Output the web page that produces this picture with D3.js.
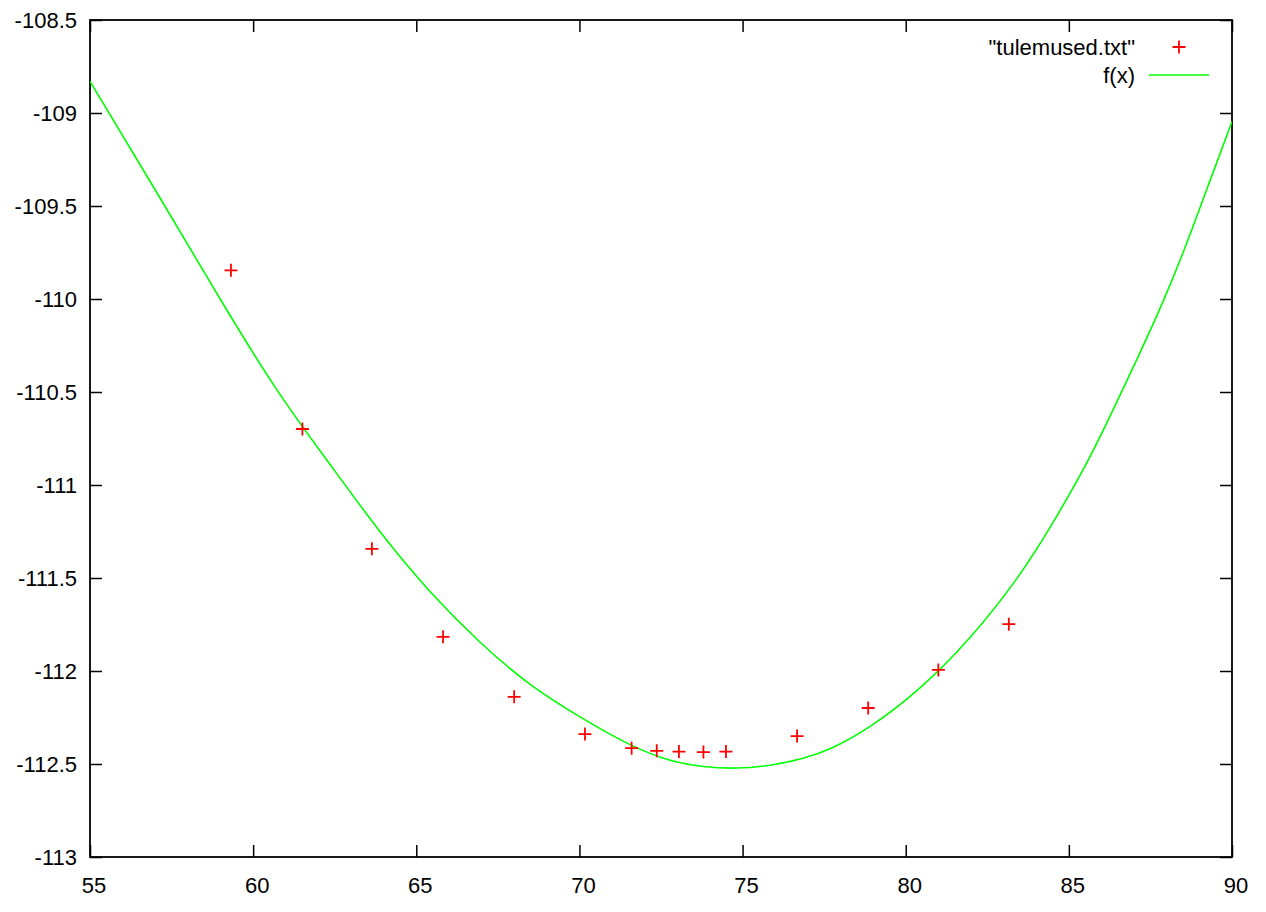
<!DOCTYPE html>
<html>
<head>
<meta charset="utf-8">
<script src="https://cdn.jsdelivr.net/npm/d3@7"></script>
<style>
  html, body { margin: 0; padding: 0; background: #fff; }
  svg text { font-family: "Liberation Sans", Arial, sans-serif; font-size: 22px; fill: #000; }
</style>
</head>
<body>
<svg id="chart" width="1266" height="912"></svg>
<script>
// Data points "tulemused.txt"
const dataX = [59.32, 61.51, 63.64, 65.82, 68.00, 70.17, 71.60, 72.37, 73.05, 73.80, 74.49, 76.67, 78.85, 81.00, 83.16];
const dataY = [-109.846, -110.699, -111.343, -111.816, -112.139, -112.339, -112.415, -112.429, -112.433, -112.436, -112.433, -112.350, -112.199, -111.994, -111.748];

// Fitted curve f(x)
const fitX = [55.0, 57.30, 58.98, 60.72, 62.30, 63.89, 65.42, 66.95, 68.48, 70.32, 71.60, 72.78, 73.80, 74.82, 75.84, 76.86, 77.68, 78.90, 80.44, 81.97, 83.50, 84.52, 85.65, 86.36, 87.08, 87.79, 88.51, 89.22, 90.0];
const fitY = [-108.83, -109.50, -110.00, -110.50, -110.875, -111.259, -111.581, -111.850, -112.083, -112.280, -112.406, -112.487, -112.517, -112.526, -112.510, -112.472, -112.424, -112.307, -112.101, -111.832, -111.492, -111.205, -110.855, -110.595, -110.327, -110.058, -109.753, -109.413, -109.046];

const xTicks = [55, 60, 65, 70, 75, 80, 85, 90];
const yTicks = [-108.5, -109, -109.5, -110, -110.5, -111, -111.5, -112, -112.5, -113];
const seriesNames = ['"tulemused.txt"', 'f(x)'];

const svg = d3.select("#chart");
const L = 90, R = 1232, T = 20, B = 857;

const x = d3.scaleLinear().domain([55, 90]).range([L, R]);
const y = d3.scaleLinear().domain([-113, -108.5]).range([B, T]);

const tickLen = 12;
const fmt = d => String(d);
const FS = 23;

// axes with inward ticks on all four sides
const gB = svg.append("g").attr("transform", `translate(0,${B})`)
  .call(d3.axisBottom(x).tickValues(xTicks).tickSize(-tickLen).tickPadding(tickLen + 8).tickFormat(fmt));
const gT = svg.append("g").attr("transform", `translate(0,${T})`)
  .call(d3.axisTop(x).tickValues(xTicks).tickSize(-tickLen).tickFormat(""));
const gL = svg.append("g").attr("transform", `translate(${L},0)`)
  .call(d3.axisLeft(y).tickValues(yTicks).tickSize(-tickLen).tickPadding(tickLen + 1).tickFormat(fmt));
const gR = svg.append("g").attr("transform", `translate(${R},0)`)
  .call(d3.axisRight(y).tickValues(yTicks).tickSize(-tickLen).tickFormat(""));

[gB, gT, gL, gR].forEach(g => {
  g.select(".domain").remove();
  g.selectAll(".tick line").attr("stroke", "#000").attr("stroke-width", 1.5);
  g.selectAll("text").attr("font-family", "Liberation Sans, Arial, sans-serif").attr("font-size", FS).attr("fill", "#000");
});
gB.selectAll(".tick text").attr("dx", 3.5);
gL.selectAll(".tick text").attr("dy", "0.35em");

// frame
svg.append("rect").attr("x", L).attr("y", T).attr("width", R - L).attr("height", B - T)
  .attr("fill", "none").attr("stroke", "#000").attr("stroke-width", 1.8);

// clip
svg.append("clipPath").attr("id", "clip").append("rect")
  .attr("x", L).attr("y", T).attr("width", R - L).attr("height", B - T);

// fitted curve
const fit = fitX.map((v, i) => [v, fitY[i]]);
svg.append("path").datum(fit)
  .attr("clip-path", "url(#clip)")
  .attr("fill", "none").attr("stroke", "#00ff00").attr("stroke-width", 1.6)
  .attr("d", d3.line().x(d => x(d[0])).y(d => y(d[1])).curve(d3.curveBasis));

// points as '+'
const pts = dataX.map((v, i) => [v, dataY[i]]);
const m = 6.5;
const plus = (cx, cy) => `M${cx - m},${cy}H${cx + m}M${cx},${cy - m}V${cy + m}`;
svg.append("g").selectAll("path").data(pts).join("path")
  .attr("d", d => plus(x(d[0]), y(d[1])))
  .attr("stroke", "#ff0000").attr("stroke-width", 1.8).attr("fill", "none");

// legend
const leg = svg.append("g");
leg.append("text").attr("x", 1135).attr("y", 55).attr("text-anchor", "end").attr("font-size", FS).text(seriesNames[0]);
leg.append("path").attr("d", plus(1179, 47)).attr("stroke", "#ff0000").attr("stroke-width", 1.8);
leg.append("text").attr("x", 1135).attr("y", 83).attr("text-anchor", "end").attr("font-size", FS).text(seriesNames[1]);
leg.append("line").attr("x1", 1149).attr("x2", 1209).attr("y1", 75).attr("y2", 75)
  .attr("stroke", "#00ff00").attr("stroke-width", 1.6);
</script>
</body>
</html>
